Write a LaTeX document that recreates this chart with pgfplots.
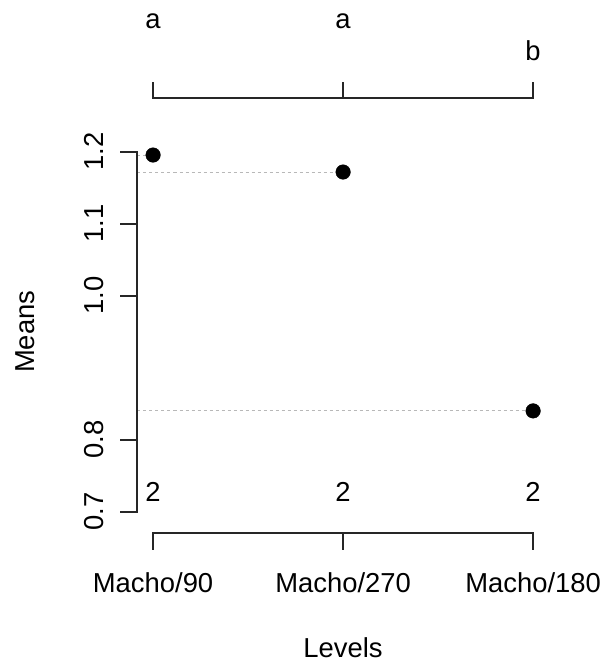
\documentclass[border=0pt]{standalone}
\usepackage{fontspec}
\setmainfont{Liberation Sans}
\usepackage{pgfplots}
\pgfplotsset{compat=1.18}
\newcommand\F{\fontsize{27.4}{32}\selectfont}
\begin{document}
\begin{tikzpicture}
\path[use as bounding box] (0,0) rectangle (608pt,-665pt);
\begin{axis}[
  at={(137.5pt,-533pt)}, anchor=south west,
  width=411.2pt, height=435pt, scale only axis,
  xmin=0.918, xmax=3.082, ymin=0.6704, ymax=1.2746,
  hide axis, clip=false]
% dotted reference lines
\addplot[black!28, dash pattern=on 3pt off 3pt, line width=1pt] coordinates {(0.918,1.1954) (1,1.1954)};
\addplot[black!28, dash pattern=on 3pt off 3pt, line width=1pt] coordinates {(0.918,1.1718) (2,1.1718)};
\addplot[black!28, dash pattern=on 3pt off 3pt, line width=1pt] coordinates {(0.918,0.840) (3,0.840)};
% means
\addplot[only marks, mark=*, mark size=7.3pt, black] coordinates {(1,1.1954) (2,1.1718) (3,0.840)};
% left axis
\draw[line width=2pt, black!85, line cap=rect] (axis cs:0.918,0.7) -- (axis cs:0.918,1.2);
\draw[line width=2pt, black!85] (axis cs:0.918,0.7) -- ([xshift=-17pt]axis cs:0.918,0.7);
\draw[line width=2pt, black!85] (axis cs:0.918,0.8) -- ([xshift=-17pt]axis cs:0.918,0.8);
\draw[line width=2pt, black!85] (axis cs:0.918,1.0) -- ([xshift=-17pt]axis cs:0.918,1.0);
\draw[line width=2pt, black!85] (axis cs:0.918,1.1) -- ([xshift=-17pt]axis cs:0.918,1.1);
\draw[line width=2pt, black!85] (axis cs:0.918,1.2) -- ([xshift=-17pt]axis cs:0.918,1.2);
\node[font=\F, rotate=90, anchor=center] at ([xshift=-43.5pt]axis cs:0.918,0.7) {0.7};
\node[font=\F, rotate=90, anchor=center] at ([xshift=-43.5pt]axis cs:0.918,0.8) {0.8};
\node[font=\F, rotate=90, anchor=center] at ([xshift=-43.5pt]axis cs:0.918,1.0) {1.0};
\node[font=\F, rotate=90, anchor=center] at ([xshift=-43.5pt]axis cs:0.918,1.1) {1.1};
\node[font=\F, rotate=90, anchor=center] at ([xshift=-43.5pt]axis cs:0.918,1.2) {1.2};
% bottom axis
\draw[line width=2pt, black!85, line cap=rect] (axis cs:1,0.6704) -- (axis cs:3,0.6704);
\draw[line width=2pt, black!85] (axis cs:1,0.6704) -- ([yshift=-17pt]axis cs:1,0.6704);
\draw[line width=2pt, black!85] (axis cs:2,0.6704) -- ([yshift=-17pt]axis cs:2,0.6704);
\draw[line width=2pt, black!85] (axis cs:3,0.6704) -- ([yshift=-17pt]axis cs:3,0.6704);
\node[font=\F, anchor=center] at ([yshift=-50pt]axis cs:1,0.6704) {Macho/90};
\node[font=\F, anchor=center] at ([yshift=-50pt]axis cs:2,0.6704) {Macho/270};
\node[font=\F, anchor=center] at ([yshift=-50pt]axis cs:3,0.6704) {Macho/180};
\node[font=\F, anchor=base] at ([yshift=10pt]axis cs:1,0.7) {2};
\node[font=\F, anchor=base] at ([yshift=10pt]axis cs:2,0.7) {2};
\node[font=\F, anchor=base] at ([yshift=10pt]axis cs:3,0.7) {2};
% top axis
\draw[line width=2pt, black!85, line cap=rect] (axis cs:1,1.2746) -- (axis cs:3,1.2746);
\draw[line width=2pt, black!85] (axis cs:1,1.2746) -- ([yshift=16pt]axis cs:1,1.2746);
\draw[line width=2pt, black!85] (axis cs:2,1.2746) -- ([yshift=16pt]axis cs:2,1.2746);
\draw[line width=2pt, black!85] (axis cs:3,1.2746) -- ([yshift=16pt]axis cs:3,1.2746);
\node[font=\F, anchor=base] at ([yshift=70pt]axis cs:1,1.2746) {a};
\node[font=\F, anchor=base] at ([yshift=70pt]axis cs:2,1.2746) {a};
\node[font=\F, anchor=base] at ([yshift=38pt]axis cs:3,1.2746) {b};
% axis titles
\node[font=\F, anchor=center] at ([yshift=-115pt]axis cs:2,0.6704) {Levels};
\node[font=\F, rotate=90, anchor=center] at ([xshift=-112pt]axis cs:0.918,0.95) {Means};
\end{axis}
\end{tikzpicture}
\end{document}
